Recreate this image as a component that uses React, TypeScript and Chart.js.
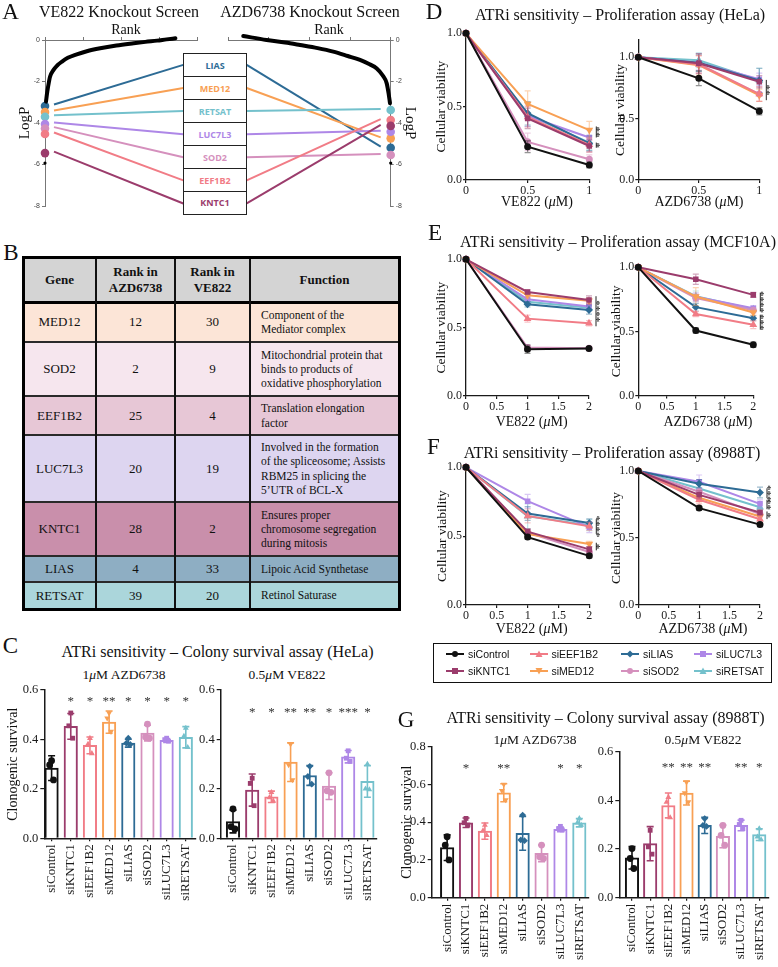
import React, { useEffect, useRef } from 'react';
import { Chart, registerables } from 'chart.js';

Chart.register(...registerables);

const SERIF = '"Liberation Serif", "Times New Roman", serif';
const SANS = '"Liberation Sans", Arial, sans-serif';
Chart.defaults.font.family = SERIF;
Chart.defaults.color = '#1a1a1a';

// ================= DATA =================
const GROUPS = ['siControl', 'siKNTC1', 'siEEF1B2', 'siMED12', 'siLIAS', 'siSOD2', 'siLUC7L3', 'siRETSAT'];
const GROUP_COLORS = ['#111111', '#9b3c6c', '#f17c86', '#f8a054', '#2d6b95', '#d590bd', '#ae87e7', '#74c1cc'];
const GROUP_SHAPES = ['circle', 'rect', 'triangle', 'triangle', 'rectRot', 'circle', 'rect', 'triangle'];
const GROUP_ROT = [0, 0, 0, 180, 0, 0, 0, 0];

// Panel A – knockout screens
const SCREEN_GENES = ['LIAS', 'MED12', 'RETSAT', 'LUC7L3', 'SOD2', 'EEF1B2', 'KNTC1'];
const VE822_GENE_LOGP = [-3.18, -3.47, -3.7, -4.05, -4.27, -4.53, -5.45];
const AZD_GENE_LOGP = [-5.19, -4.74, -3.37, -4.42, -5.54, -3.86, -4.14];
const OTHER_HIT_LOGP = -5.93;
const VE822_CURVE_RANK = [130, 300, 530, 660, 1100, 1600, 2200, 3000, 4180, 5500, 7260, 9400, 11660, 13200, 14740, 16000, 17160];
const VE822_CURVE_LOGP = [-2.97, -2.49, -2.0, -1.77, -1.45, -1.23, -1.05, -0.86, -0.69, -0.54, -0.4, -0.27, -0.16, -0.09, -0.03, 0.03, 0.08];
const AZD_CURVE_RANK = [86, 250, 490, 1000, 1720, 2600, 3780, 5300, 7070, 9000, 11170, 13000, 15280, 18160];
const AZD_CURVE_LOGP = [-3.05, -2.6, -2.09, -1.7, -1.37, -1.17, -0.96, -0.77, -0.56, -0.39, -0.24, -0.12, 0.0, 0.19];

// Panel B – table
const TABLE_HEADERS = ['Gene', 'Rank in\nAZD6738', 'Rank in\nVE822', 'Function'];
const TABLE_GENES = ['MED12', 'SOD2', 'EEF1B2', 'LUC7L3', 'KNTC1', 'LIAS', 'RETSAT'];
const TABLE_RANK_AZD = [12, 2, 25, 20, 28, 4, 39];
const TABLE_RANK_VE = [30, 9, 4, 19, 2, 33, 20];
const TABLE_FUNCTION = [
  'Component of the\nMediator complex',
  'Mitochondrial protein that\nbinds to products of\noxidative phosphorylation',
  'Translation elongation\nfactor',
  'Involved in the formation\nof the spliceosome; Assists\nRBM25 in splicing the\n5\u2019UTR of BCL-X',
  'Ensures proper\nchromosome segregation\nduring mitosis',
  'Lipoic Acid Synthetase',
  'Retinol Saturase',
];

// Panel C – colony survival HeLa
const C_AZD_MEAN = [0.284, 0.453, 0.376, 0.47, 0.385, 0.426, 0.396, 0.409];
const C_AZD_SD = [0.05, 0.052, 0.034, 0.045, 0.016, 0.032, 0.008, 0.043];
const C_AZD_REPS = [[0.314, 0.297, 0.236], [0.507, 0.455, 0.405], [0.405, 0.381, 0.343], [0.507, 0.486, 0.432], [0.405, 0.385, 0.38], [0.462, 0.41, 0.405], [0.405, 0.399, 0.393], [0.446, 0.413, 0.368]];
const C_AZD_STARS = ['', '*', '*', '**', '*', '*', '*', '*'];
const C_VE_MEAN = [0.068, 0.195, 0.168, 0.308, 0.254, 0.211, 0.33, 0.23];
const C_VE_SD = [0.046, 0.065, 0.023, 0.078, 0.04, 0.054, 0.025, 0.064];
const C_VE_REPS = [[0.119, 0.047, 0.038], [0.243, 0.222, 0.132], [0.186, 0.165, 0.151], [0.381, 0.297, 0.236], [0.291, 0.25, 0.219], [0.265, 0.192, 0.186], [0.354, 0.324, 0.311], [0.3, 0.2, 0.197]];
const C_VE_STARS = ['', '*', '*', '**', '**', '*', '***', '*'];

// Panel G – colony survival 8988T
const G_AZD_MEAN = [0.265, 0.397, 0.353, 0.556, 0.341, 0.235, 0.362, 0.397];
const G_AZD_SD = [0.068, 0.025, 0.043, 0.048, 0.09, 0.044, 0.012, 0.022];
const G_AZD_REPS = [[0.323, 0.279, 0.2], [0.42, 0.397, 0.385], [0.385, 0.355, 0.33], [0.6, 0.567, 0.518], [0.438, 0.306, 0.302], [0.279, 0.217, 0.208], [0.378, 0.366, 0.359], [0.42, 0.397, 0.385]];
const G_AZD_STARS = ['', '*', '', '**', '', '', '*', '*'];
const G_VE_MEAN = [0.164, 0.222, 0.379, 0.43, 0.297, 0.252, 0.297, 0.259];
const G_VE_SD = [0.046, 0.07, 0.051, 0.049, 0.033, 0.047, 0.022, 0.024];
const G_VE_REPS = [[0.202, 0.161, 0.12], [0.277, 0.209, 0.179], [0.413, 0.393, 0.329], [0.475, 0.43, 0.393], [0.325, 0.297, 0.293], [0.297, 0.256, 0.216], [0.318, 0.301, 0.284], [0.284, 0.25, 0.239]];
const G_VE_STARS = ['', '', '**', '**', '**', '', '**', '*'];

// Panels D–F – proliferation (rows follow GROUPS)
const D_DOSE = [0, 0.5, 1];
const EF_DOSE = [0, 1, 2];
const D_VE = [[1, 0.227, 0.102], [1, 0.42, 0.232], [1, 0.43, 0.24], [1, 0.518, 0.34], [1, 0.455, 0.25], [1, 0.26, 0.141], [1, 0.436, 0.29], [1, 0.445, 0.255]];
const D_VE_SD = [[0, 0.04, 0.02], [0, 0.07, 0.04], [0, 0.07, 0.05], [0, 0.09, 0.06], [0, 0.08, 0.05], [0, 0.06, 0.03], [0, 0.07, 0.05], [0, 0.08, 0.05]];
const D_VE_SIG = [{ lo: 0.29, hi: 0.365, t: '**' }, { lo: 0.22, hi: 0.255, t: '*' }];
const D_AZD = [[1, 0.828, 0.56], [1, 0.95, 0.8], [1, 0.94, 0.7], [1, 0.935, 0.69], [1, 0.955, 0.81], [1, 0.945, 0.7], [1, 0.955, 0.82], [1, 0.975, 0.81]];
const D_AZD_SD = [[0, 0.06, 0.03], [0, 0.08, 0.05], [0, 0.07, 0.06], [0, 0.08, 0.05], [0, 0.07, 0.1], [0, 0.08, 0.06], [0, 0.06, 0.05], [0, 0.06, 0.1]];
const D_AZD_SIG = [{ lo: 0.65, hi: 0.815, t: '**' }];
const E_VE = [[1, 0.342, 0.347], [1, 0.761, 0.702], [1, 0.566, 0.532], [1, 0.737, 0.697], [1, 0.671, 0.629], [1, 0.355, 0.35], [1, 0.707, 0.654], [1, 0.69, 0.645]];
const E_VE_SD = [[0, 0.03, 0.01], [0, 0.015, 0.03], [0, 0.025, 0.02], [0, 0.02, 0.02], [0, 0.02, 0.03], [0, 0.02, 0.01], [0, 0.02, 0.02], [0, 0.02, 0.02]];
const E_VE_SIG = [{ lo: 0.51, hi: 0.73, t: '****' }];
const E_AZD = [[1, 0.507, 0.396], [1, 0.907, 0.785], [1, 0.635, 0.552], [1, 0.772, 0.647], [1, 0.689, 0.603], [1, 0.76, 0.665], [1, 0.77, 0.68], [1, 0.775, 0.672]];
const E_AZD_SD = [[0, 0.02, 0.02], [0, 0.04, 0.02], [0, 0.02, 0.03], [0, 0.07, 0.02], [0, 0.03, 0.02], [0, 0.03, 0.02], [0, 0.03, 0.02], [0, 0.04, 0.02]];
const E_AZD_SIG = [{ lo: 0.655, hi: 0.803, t: '****' }, { lo: 0.513, hi: 0.63, t: '***' }];
const F_VE = [[1, 0.493, 0.357], [1, 0.533, 0.404], [1, 0.647, 0.571], [1, 0.516, 0.443], [1, 0.664, 0.595], [1, 0.525, 0.385], [1, 0.754, 0.565], [1, 0.645, 0.58]];
const F_VE_SD = [[0, 0.015, 0.015], [0, 0.02, 0.02], [0, 0.05, 0.03], [0, 0.02, 0.02], [0, 0.05, 0.03], [0, 0.02, 0.02], [0, 0.05, 0.04], [0, 0.09, 0.04]];
const F_VE_SIG = [{ lo: 0.516, hi: 0.624, t: '****' }, { lo: 0.397, hi: 0.452, t: '*' }];
const F_AZD = [[1, 0.723, 0.6], [1, 0.822, 0.69], [1, 0.785, 0.64], [1, 0.8, 0.66], [1, 0.905, 0.839], [1, 0.845, 0.678], [1, 0.92, 0.755], [1, 0.87, 0.73]];
const F_AZD_SD = [[0, 0.015, 0.015], [0, 0.03, 0.02], [0, 0.03, 0.02], [0, 0.03, 0.02], [0, 0.03, 0.04], [0, 0.03, 0.02], [0, 0.05, 0.03], [0, 0.03, 0.03]];
const F_AZD_SIG = [{ lo: 0.797, hi: 0.871, t: '***' }, { lo: 0.715, hi: 0.785, t: '**' }, { lo: 0.641, hi: 0.698, t: '*' }];

// ================= HELPERS =================
const SCREEN_COLORS = SCREEN_GENES.map((g) => GROUP_COLORS[GROUPS.indexOf('si' + g)]);
const JITTER = [0, -0.1, 0.1];

function hexA(hex: string, a: number) {
  const n = parseInt(hex.slice(1), 16);
  return `rgba(${(n >> 16) & 255},${(n >> 8) & 255},${n & 255},${a})`;
}

const BASE: any = {
  responsive: false,
  maintainAspectRatio: false,
  animation: false,
  events: [],
  plugins: { legend: { display: false }, tooltip: { enabled: false } },
};

type Rect = { x: number; y: number; w: number; h: number };
type Area = { L: number; T: number; R: number; B: number };

function drawErr(chart: any, index: number, layer: string) {
  const ds = chart.data.datasets[index];
  if (!ds || !ds.errors || ds.errorLayer !== layer) return;
  const meta = chart.getDatasetMeta(index);
  const yScale = chart.scales[meta.yAxisID];
  const ctx = chart.ctx;
  ctx.save();
  ctx.lineWidth = ds.errorWidth || 1.4;
  meta.data.forEach((el: any, i: number) => {
    const e = ds.errors[i];
    if (!e) return;
    const p = meta.controller.getParsed(i);
    const top = yScale.getPixelForValue(p.y + e);
    const bot = yScale.getPixelForValue(p.y - e);
    ctx.strokeStyle = Array.isArray(ds.errorColor) ? ds.errorColor[i] : ds.errorColor;
    const cap = ds.errorCap || 3;
    ctx.beginPath();
    ctx.moveTo(el.x, top);
    ctx.lineTo(el.x, bot);
    ctx.moveTo(el.x - cap, top);
    ctx.lineTo(el.x + cap, top);
    ctx.moveTo(el.x - cap, bot);
    ctx.lineTo(el.x + cap, bot);
    ctx.stroke();
  });
  ctx.restore();
}

const errorBarPlugin = {
  id: 'errorBars',
  beforeDatasetDraw(chart: any, args: any) { drawErr(chart, args.index, 'before'); },
  afterDatasetDraw(chart: any, args: any) { drawErr(chart, args.index, 'after'); },
};

function makeSigPlugin(items: { lo: number; hi: number; t: string }[], dx: number) {
  return {
    id: 'sigBrackets',
    afterDraw(chart: any) {
      const ctx = chart.ctx;
      const y = chart.scales.y;
      const xl = chart.chartArea.right + dx;
      ctx.save();
      ctx.strokeStyle = '#222';
      ctx.fillStyle = '#222';
      ctx.lineWidth = 1;
      ctx.font = `11px ${SERIF}`;
      items.forEach((it) => {
        const y1 = y.getPixelForValue(it.hi);
        const y2 = y.getPixelForValue(it.lo);
        ctx.beginPath();
        ctx.moveTo(xl, y1);
        ctx.lineTo(xl, y2);
        ctx.stroke();
        ctx.save();
        ctx.translate(xl + 3, (y1 + y2) / 2);
        ctx.rotate(Math.PI / 2);
        ctx.textAlign = 'center';
        ctx.textBaseline = 'top';
        ctx.fillText(it.t, 0, -2);
        ctx.restore();
      });
      ctx.restore();
    },
  };
}

function makeStarsPlugin(labels: string[], at: number) {
  return {
    id: 'stars',
    afterDatasetsDraw(chart: any) {
      const ctx = chart.ctx;
      const x = chart.scales.x;
      const y = chart.scales.y;
      ctx.save();
      ctx.fillStyle = '#333';
      ctx.font = `13px ${SERIF}`;
      ctx.textAlign = 'center';
      ctx.textBaseline = 'middle';
      labels.forEach((t, i) => {
        if (t) ctx.fillText(t, x.getPixelForValue(i), y.getPixelForValue(at) + 4);
      });
      ctx.restore();
    },
  };
}

function makeCatShift(extra: number) {
  return {
    id: 'catShift',
    afterLayout(chart: any) {
      const s = chart.scales.x;
      s._startValue -= extra;
      s._valueRange += extra;
    },
  };
}

const A_RECT: Rect = { x: 0, y: 0, w: 430, h: 215 };
const A_LEFT_AREA: Area = { L: 45, T: 40, R: 197, B: 206 };
const A_RIGHT_AREA: Area = { L: 228.3, T: 40, R: 390.7, B: 206 };
const A_BOX = { left: 183.3, right: 246.7, top: 53.3, h: 161.7 };

function makeConnectorPlugin(side: string) {
  return {
    id: 'connectors',
    beforeDatasetsDraw(chart: any) {
      const meta = chart.getDatasetMeta(1);
      const ctx = chart.ctx;
      const cell = A_BOX.h / SCREEN_GENES.length;
      ctx.save();
      ctx.lineWidth = 2;
      meta.data.forEach((el: any, i: number) => {
        const cy = A_BOX.top + (i + 0.5) * cell - A_RECT.y;
        ctx.strokeStyle = SCREEN_COLORS[i];
        ctx.beginPath();
        if (side === 'left') {
          ctx.moveTo(el.x + 9, el.y - 1.5);
          ctx.lineTo(A_BOX.left - A_RECT.x, cy);
        } else {
          ctx.moveTo(A_BOX.right - A_RECT.x, cy);
          ctx.lineTo(el.x - 10, el.y - 1);
        }
        ctx.stroke();
      });
      ctx.restore();
    },
  };
}

function screenConfig(side: 'left' | 'right') {
  const left = side === 'left';
  const area = left ? A_LEFT_AREA : A_RIGHT_AREA;
  const rank = left ? VE822_CURVE_RANK : AZD_CURVE_RANK;
  const logp = left ? VE822_CURVE_LOGP : AZD_CURVE_LOGP;
  const genes = left ? VE822_GENE_LOGP : AZD_GENE_LOGP;
  const tickFont = { size: 7, family: SANS };
  return {
    type: 'scatter',
    data: {
      datasets: [
        {
          data: rank.map((r, i) => ({ x: r, y: logp[i] })),
          showLine: true,
          borderColor: '#000',
          borderWidth: 4,
          pointRadius: 0,
          cubicInterpolationMode: 'monotone',
          borderCapStyle: 'round',
          clip: false,
        },
        {
          data: genes.map((v) => ({ x: 0, y: v })),
          pointRadius: 4.3,
          pointBackgroundColor: SCREEN_COLORS,
          pointBorderWidth: 0,
          clip: false,
        },
        {
          data: [{ x: 0, y: OTHER_HIT_LOGP }],
          pointRadius: 1.6,
          pointBackgroundColor: '#000',
          pointBorderWidth: 0,
          clip: false,
        },
      ],
    },
    options: {
      ...BASE,
      layout: {
        padding: left
          ? { left: 0, top: 0, right: A_RECT.x + A_RECT.w - area.R, bottom: A_RECT.y + A_RECT.h - area.B }
          : { left: area.L - A_RECT.x, top: 0, right: 0, bottom: A_RECT.y + A_RECT.h - area.B },
      },
      scales: {
        x: {
          type: 'linear',
          position: 'top',
          min: 0,
          max: 20000,
          reverse: !left,
          border: { display: true, color: '#777', width: 1 },
          grid: { drawOnChartArea: false, tickLength: 3, color: '#777' },
          ticks: {
            stepSize: 5000,
            font: tickFont,
            color: '#444',
            padding: -13.2,
            maxRotation: 0,
            callback: (v: number) => (left && v === 0 ? '' : String(v)),
          },
          afterFit: (s: any) => { s.height = area.T - A_RECT.y; },
        },
        y: {
          type: 'linear',
          position: left ? 'left' : 'right',
          min: -8,
          max: 0,
          border: { display: true, color: '#777', width: 1 },
          grid: { drawOnChartArea: false, tickLength: 3, color: '#777' },
          ticks: { stepSize: 2, font: tickFont, color: '#444', padding: 2 },
          title: {
            display: true,
            text: 'LogP',
            font: { size: 15, family: SERIF },
            color: '#111',
            padding: { top: left ? 16 : 11, bottom: 0 },
          },
          afterFit: (s: any) => { s.width = left ? area.L - A_RECT.x : A_RECT.x + A_RECT.w - area.R; },
        },
      },
    },
    plugins: [makeConnectorPlugin(side)],
  };
}

function lineAxis() {
  return {
    border: { display: true, color: '#1a1a1a', width: 1.3 },
    grid: { display: true, drawOnChartArea: false, drawTicks: true, tickLength: 3, color: '#1a1a1a', lineWidth: 1.2 },
  };
}

function viabilityConfig(rect: Rect, a: Area, dose: number[], vals: number[][], sds: number[][], xMax: number, yMax: number, titleX: number, sig: any[]) {
  const titleFont = { size: 13.5, family: SERIF };
  const lh = 13.5 * 1.2;
  return {
    type: 'scatter',
    data: {
      datasets: GROUPS.map((g, i) => ({
        label: g,
        data: dose.map((d, j) => ({ x: d, y: vals[i][j] })),
        showLine: true,
        borderColor: GROUP_COLORS[i],
        backgroundColor: GROUP_COLORS[i],
        borderWidth: 2,
        pointRadius: 2.5,
        pointStyle: GROUP_SHAPES[i],
        pointRotation: GROUP_ROT[i],
        clip: false,
        errors: sds[i],
        errorColor: hexA(GROUP_COLORS[i], 0.45),
        errorLayer: 'before',
        errorWidth: 1.2,
      })),
    },
    options: {
      ...BASE,
      layout: { padding: { left: 0, top: a.T - rect.y, right: rect.x + rect.w - a.R, bottom: 0 } },
      scales: {
        x: {
          type: 'linear',
          min: 0,
          max: xMax,
          ...lineAxis(),
          ticks: { stepSize: 0.5, font: { size: 12, family: SERIF }, color: '#1a1a1a', padding: 1, maxRotation: 0, callback: (v: number) => String(v) },
          afterFit: (s: any) => { s.height = rect.y + rect.h - a.B; },
        },
        y: {
          type: 'linear',
          min: 0,
          max: yMax,
          ...lineAxis(),
          ticks: { stepSize: 0.5, includeBounds: false, font: { size: 12, family: SERIF }, color: '#1a1a1a', padding: 1, callback: (v: number) => Number(v).toFixed(1) },
          title: { display: true, text: 'Cellular viability', font: titleFont, color: '#111', padding: { top: Math.max(0, titleX - rect.x - lh / 2), bottom: 0 } },
          afterFit: (s: any) => { s.width = a.L - rect.x; },
        },
      },
    },
    plugins: [errorBarPlugin, makeSigPlugin(sig, 7)],
  };
}

function colonyConfig(rect: Rect, a: Area, extra: number, yMax: number, means: number[], sd: number[], reps: number[][], stars: string[], starAt: number, titleX: number | null) {
  const pts: any[] = [];
  const styles: string[] = [];
  const rots: number[] = [];
  const cols: string[] = [];
  reps.forEach((r, i) =>
    r.forEach((v, k) => {
      pts.push({ x: i + JITTER[k], y: v });
      styles.push(GROUP_SHAPES[i]);
      rots.push(GROUP_ROT[i]);
      cols.push(GROUP_COLORS[i]);
    })
  );
  const lh = 14 * 1.2;
  return {
    type: 'bar',
    data: {
      labels: GROUPS,
      datasets: [
        {
          type: 'bar',
          data: means,
          backgroundColor: '#ffffff',
          borderColor: GROUP_COLORS,
          borderWidth: 2,
          barThickness: 13.5,
          order: 2,
          errors: sd,
          errorColor: GROUP_COLORS,
          errorLayer: 'after',
          errorWidth: 1.6,
          errorCap: 3.5,
        },
        {
          type: 'scatter',
          parsing: false,
          data: pts,
          pointStyle: styles,
          pointRotation: rots,
          pointBackgroundColor: cols,
          pointBorderColor: cols,
          pointBorderWidth: 0,
          pointRadius: 3.4,
          order: 1,
          clip: false,
        },
      ],
    },
    options: {
      ...BASE,
      layout: { padding: { left: 0, top: a.T - rect.y, right: rect.x + rect.w - a.R, bottom: 0 } },
      scales: {
        x: {
          type: 'category',
          offset: true,
          border: { display: true, color: '#1a1a1a', width: 1.5 },
          grid: { display: true, offset: false, drawOnChartArea: false, tickLength: 3, color: '#1a1a1a', lineWidth: 1.2 },
          ticks: { autoSkip: false, minRotation: 90, maxRotation: 90, font: { size: 13, family: SERIF }, color: '#1a1a1a', padding: 3 },
          afterFit: (s: any) => { s.height = rect.y + rect.h - a.B; },
        },
        y: {
          type: 'linear',
          min: 0,
          max: yMax,
          border: { display: true, color: '#1a1a1a', width: 1.5 },
          grid: { display: true, drawOnChartArea: false, tickLength: 4, color: '#1a1a1a', lineWidth: 1.2 },
          ticks: { stepSize: 0.2, font: { size: 12.5, family: SERIF }, color: '#1a1a1a', padding: 2, callback: (v: number) => Number(v).toFixed(1) },
          title: titleX === null
            ? { display: false }
            : { display: true, text: 'Clonogenic survival', font: { size: 14, family: SERIF }, color: '#111', padding: { top: Math.max(0, titleX - rect.x - lh / 2), bottom: 0 } },
          afterFit: (s: any) => { s.width = a.L - rect.x; },
        },
      },
    },
    plugins: [makeCatShift(extra), errorBarPlugin, makeStarsPlugin(stars, starAt)],
  };
}

// ================= COMPONENTS =================
function ChartBox({ rect, build }: { rect: Rect; build: () => any }) {
  const ref = useRef<HTMLCanvasElement>(null);
  useEffect(() => {
    const chart = new Chart(ref.current as HTMLCanvasElement, build());
    return () => chart.destroy();
  }, []);
  return (
    <div style={{ position: 'absolute', left: rect.x, top: rect.y, width: rect.w, height: rect.h }}>
      <canvas ref={ref} width={rect.w} height={rect.h} style={{ display: 'block' }} />
    </div>
  );
}

function Txt({ x, y, size, children, bold, family, color }: any) {
  return (
    <div
      style={{
        position: 'absolute',
        left: x,
        top: y,
        transform: 'translate(-50%, -50%)',
        fontSize: size,
        lineHeight: 1,
        whiteSpace: 'nowrap',
        fontWeight: bold ? 700 : 400,
        fontFamily: family || SERIF,
        color: color || '#111',
      }}
    >
      {children}
    </div>
  );
}

function ScreenBox() {
  return (
    <div
      style={{
        position: 'absolute',
        left: A_BOX.left,
        top: A_BOX.top,
        width: A_BOX.right - A_BOX.left,
        height: A_BOX.h,
        border: '1.2px solid #222',
        boxSizing: 'border-box',
        background: '#fff',
        display: 'flex',
        flexDirection: 'column',
      }}
    >
      {SCREEN_GENES.map((g, i) => (
        <div
          key={g}
          style={{
            flex: 1,
            borderTop: i ? '1.2px solid #222' : 'none',
            display: 'flex',
            alignItems: 'center',
            justifyContent: 'center',
            color: SCREEN_COLORS[i],
            fontFamily: '"Open Sans", sans-serif',
            fontWeight: 700,
            fontSize: 9,
          }}
        >
          {g}
        </div>
      ))}
    </div>
  );
}

const TBL_COLS = [23, 96, 175, 250, 399];
const TBL_ROWS = [257, 302, 342, 396, 435, 502, 556, 582, 609];
const TBL_BG = ['#fce5d7', '#f6e6ee', '#e7c7d6', '#ddd5f0', '#c98fab', '#8eaec3', '#abd6db'];

function GeneTable() {
  const cells: any[] = [];
  const rowsText = [TABLE_HEADERS].concat(
    TABLE_GENES.map((g, i) => [g, String(TABLE_RANK_AZD[i]), String(TABLE_RANK_VE[i]), TABLE_FUNCTION[i]])
  );
  rowsText.forEach((row, r) => {
    row.forEach((txt, c) => {
      const isHead = r === 0;
      const isFn = c === 3 && !isHead;
      cells.push(
        <div
          key={`${r}-${c}`}
          style={{
            position: 'absolute',
            left: TBL_COLS[c],
            top: TBL_ROWS[r],
            width: TBL_COLS[c + 1] - TBL_COLS[c],
            height: TBL_ROWS[r + 1] - TBL_ROWS[r],
            background: isHead ? '#d4d4d4' : TBL_BG[r - 1],
            display: 'flex',
            alignItems: 'center',
            justifyContent: isFn ? 'flex-start' : 'center',
            paddingLeft: isFn ? 11 : 0,
            boxSizing: 'border-box',
            fontFamily: SERIF,
            fontSize: isFn ? 11.5 : 13,
            lineHeight: isFn ? '14.3px' : '16px',
            fontWeight: isHead ? 700 : 400,
            textAlign: isFn ? 'left' : 'center',
            whiteSpace: 'pre',
            color: '#111',
          }}
        >
          {txt}
        </div>
      );
    });
  });
  const lines: any[] = [];
  TBL_ROWS.slice(1, -1).forEach((y, k) => {
    const t = k === 0 ? 3 : 1.5;
    lines.push(
      <div key={`h${k}`} style={{ position: 'absolute', left: TBL_COLS[0], top: y - t / 2, width: TBL_COLS[4] - TBL_COLS[0], height: t, background: k === 0 ? '#000' : '#2a2a2a' }} />
    );
  });
  TBL_COLS.slice(1, -1).forEach((x, k) => {
    lines.push(
      <div key={`v${k}`} style={{ position: 'absolute', left: x - 1, top: TBL_ROWS[0], width: 2, height: TBL_ROWS[8] - TBL_ROWS[0], background: '#111' }} />
    );
  });
  lines.push(
    <div
      key="outer"
      style={{
        position: 'absolute',
        left: TBL_COLS[0] - 1.5,
        top: TBL_ROWS[0] - 1.5,
        width: TBL_COLS[4] - TBL_COLS[0] + 3,
        height: TBL_ROWS[8] - TBL_ROWS[0] + 3,
        border: '3px solid #000',
        boxSizing: 'border-box',
      }}
    />
  );
  return <>{cells}{lines}</>;
}

function Marker({ i }: { i: number }) {
  const c = GROUP_COLORS[i];
  const s = GROUP_SHAPES[i];
  let shape: any;
  if (s === 'circle') shape = <circle cx={9} cy={5} r={3} fill={c} />;
  else if (s === 'rect') shape = <rect x={6} y={2} width={6} height={6} fill={c} />;
  else if (s === 'rectRot') shape = <polygon points="9,1.5 12.5,5 9,8.5 5.5,5" fill={c} />;
  else if (GROUP_ROT[i] === 180) shape = <polygon points="5.5,2 12.5,2 9,8.5" fill={c} />;
  else shape = <polygon points="9,1.5 12.5,8 5.5,8" fill={c} />;
  return (
    <svg width={18} height={10} style={{ display: 'block' }}>
      <line x1={0} y1={5} x2={18} y2={5} stroke={c} strokeWidth={2} />
      {shape}
    </svg>
  );
}

const LEG_COLS = [455, 538.5, 630, 703];
const LEG_ROWS = [654, 671];

function Legend() {
  return (
    <>
      <div style={{ position: 'absolute', left: 432.7, top: 642.7, width: 339, height: 40.6, border: '1.5px solid #111', boxSizing: 'border-box' }} />
      {GROUPS.map((g, i) => {
        const col = Math.floor(i / 2);
        const row = i % 2;
        return (
          <div key={g} style={{ position: 'absolute', left: LEG_COLS[col] - 9, top: LEG_ROWS[row] - 6, height: 12, display: 'flex', alignItems: 'center', gap: 4, fontFamily: SANS, fontSize: 10.5, color: '#111', whiteSpace: 'nowrap' }}>
            <Marker i={i} />
            <span>{g}</span>
          </div>
        );
      })}
    </>
  );
}

// chart rectangles and plot areas (page px)
const D_L_RECT: Rect = { x: 432, y: 20, w: 183, h: 185 };
const D_L_AREA: Area = { L: 466, T: 33.3, R: 589.3, B: 180 };
const D_R_RECT: Rect = { x: 610, y: 28, w: 168, h: 177 };
const D_R_AREA: Area = { L: 638.3, T: 40, R: 759.3, B: 180 };
const E_L_RECT: Rect = { x: 432, y: 247, w: 183, h: 168 };
const E_L_AREA: Area = { L: 466, T: 259.3, R: 589, B: 396 };
const E_R_RECT: Rect = { x: 607, y: 255, w: 171, h: 160 };
const E_R_AREA: Area = { L: 638.3, T: 267.3, R: 753.3, B: 395.5 };
const F_L_RECT: Rect = { x: 432, y: 457, w: 183, h: 165 };
const F_L_AREA: Area = { L: 466, T: 467.3, R: 589.3, B: 605 };
const F_R_RECT: Rect = { x: 607, y: 460, w: 171, h: 162 };
const F_R_AREA: Area = { L: 638.3, T: 471, R: 760, B: 605 };

const C_L_RECT: Rect = { x: 5, y: 680, w: 200, h: 240 };
const C_L_AREA: Area = { L: 44.3, T: 690, R: 198, B: 838.3 };
const C_R_RECT: Rect = { x: 195, y: 680, w: 192, h: 240 };
const C_R_AREA: Area = { L: 220.7, T: 690, R: 377, B: 838.3 };
const G_L_RECT: Rect = { x: 398, y: 736, w: 200, h: 231 };
const G_L_AREA: Area = { L: 431.7, T: 746.7, R: 590.6, B: 897.7 };
const G_R_RECT: Rect = { x: 596, y: 740, w: 182, h: 227 };
const G_R_AREA: Area = { L: 619.3, T: 751.7, R: 772, B: 897.7 };

export default function App() {
  return (
    <div style={{ position: 'absolute', left: 0, top: 0, width: 778, height: 967, background: '#fff', overflow: 'hidden', fontFamily: SERIF, color: '#111' }}>
      {/* Panel A */}
      <ChartBox rect={A_RECT} build={() => screenConfig('left')} />
      <ChartBox rect={A_RECT} build={() => screenConfig('right')} />
      <ScreenBox />
      <Txt x={10.5} y={11} size={23}>A</Txt>
      <Txt x={119} y={12} size={16}>VE822 Knockout Screen</Txt>
      <Txt x={310} y={12} size={16}>AZD6738 Knockout Screen</Txt>
      <Txt x={126} y={30} size={14}>Rank</Txt>
      <Txt x={329} y={30} size={14}>Rank</Txt>

      {/* Panel B */}
      <Txt x={11} y={252} size={23}>B</Txt>
      <GeneTable />

      {/* Panel C */}
      <Txt x={10.5} y={645} size={23}>C</Txt>
      <Txt x={217.5} y={652} size={16}>ATRi sensitivity – Colony survival assay (HeLa)</Txt>
      <Txt x={124} y={675} size={13.5}>1<i>μ</i>M AZD6738</Txt>
      <Txt x={287} y={675} size={13.5}>0.5<i>μ</i>M VE822</Txt>
      <ChartBox rect={C_L_RECT} build={() => colonyConfig(C_L_RECT, C_L_AREA, -0.12, 0.6, C_AZD_MEAN, C_AZD_SD, C_AZD_REPS, C_AZD_STARS, 0.57, 13.3)} />
      <ChartBox rect={C_R_RECT} build={() => colonyConfig(C_R_RECT, C_R_AREA, 0.14, 0.6, C_VE_MEAN, C_VE_SD, C_VE_REPS, C_VE_STARS, 0.524, null)} />

      {/* Panel D */}
      <Txt x={434} y={11} size={23}>D</Txt>
      <Txt x={620} y={15} size={16}>ATRi sensitivity – Proliferation assay (HeLa)</Txt>
      <ChartBox rect={D_L_RECT} build={() => viabilityConfig(D_L_RECT, D_L_AREA, D_DOSE, D_VE, D_VE_SD, 1, 1, 441.5, D_VE_SIG)} />
      <ChartBox rect={D_R_RECT} build={() => viabilityConfig(D_R_RECT, D_R_AREA, D_DOSE, D_AZD, D_AZD_SD, 1, 1.14, 620, D_AZD_SIG)} />
      <Txt x={537} y={202} size={14}>VE822 (<i>μ</i>M)</Txt>
      <Txt x={699} y={202} size={14}>AZD6738 (<i>μ</i>M)</Txt>

      {/* Panel E */}
      <Txt x={435} y={232} size={23}>E</Txt>
      <Txt x={618} y={242} size={16}>ATRi sensitivity – Proliferation assay (MCF10A)</Txt>
      <ChartBox rect={E_L_RECT} build={() => viabilityConfig(E_L_RECT, E_L_AREA, EF_DOSE, E_VE, E_VE_SD, 2, 1, 441, E_VE_SIG)} />
      <ChartBox rect={E_R_RECT} build={() => viabilityConfig(E_R_RECT, E_R_AREA, EF_DOSE, E_AZD, E_AZD_SD, 2, 1, 616, E_AZD_SIG)} />
      <Txt x={531.7} y={421.7} size={14}>VE822 (<i>μ</i>M)</Txt>
      <Txt x={708} y={421.7} size={14}>AZD6738 (<i>μ</i>M)</Txt>

      {/* Panel F */}
      <Txt x={433.5} y={446} size={23}>F</Txt>
      <Txt x={612} y={453} size={16}>ATRi sensitivity – Proliferation assay (8988T)</Txt>
      <ChartBox rect={F_L_RECT} build={() => viabilityConfig(F_L_RECT, F_L_AREA, EF_DOSE, F_VE, F_VE_SD, 2, 1, 442, F_VE_SIG)} />
      <ChartBox rect={F_R_RECT} build={() => viabilityConfig(F_R_RECT, F_R_AREA, EF_DOSE, F_AZD, F_AZD_SD, 2, 1, 616.5, F_AZD_SIG)} />
      <Txt x={531.7} y={629} size={14}>VE822 (<i>μ</i>M)</Txt>
      <Txt x={703} y={629} size={14}>AZD6738 (<i>μ</i>M)</Txt>

      <Legend />

      {/* Panel G */}
      <Txt x={406} y={719} size={23}>G</Txt>
      <Txt x={605.5} y={718} size={16}>ATRi sensitivity – Colony survival assay (8988T)</Txt>
      <Txt x={535} y={740} size={13.5}>1<i>μ</i>M AZD6738</Txt>
      <Txt x={703} y={740} size={13.5}>0.5<i>μ</i>M VE822</Txt>
      <ChartBox rect={G_L_RECT} build={() => colonyConfig(G_L_RECT, G_L_AREA, 0.317, 0.8, G_AZD_MEAN, G_AZD_SD, G_AZD_REPS, G_AZD_STARS, 0.707, 407)} />
      <ChartBox rect={G_R_RECT} build={() => colonyConfig(G_R_RECT, G_R_AREA, 0.198, 0.6, G_VE_MEAN, G_VE_SD, G_VE_REPS, G_VE_STARS, 0.55, null)} />
    </div>
  );
}
